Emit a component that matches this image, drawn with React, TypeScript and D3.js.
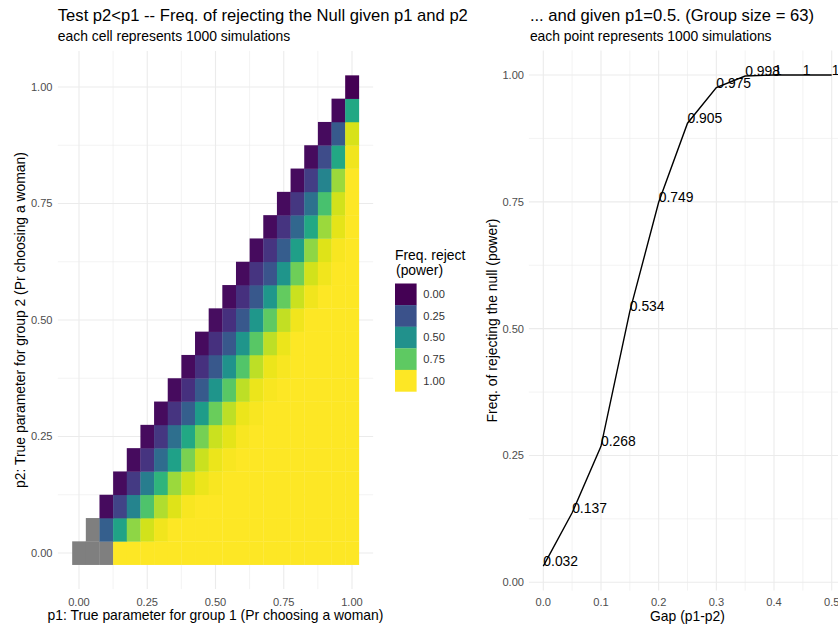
import React from "react";
import * as d3 from "d3";

// ---------- data ----------
const P_STEPS = [0, 0.05, 0.1, 0.15, 0.2, 0.25, 0.3, 0.35, 0.4, 0.45, 0.5, 0.55, 0.6, 0.65, 0.7, 0.75, 0.8, 0.85, 0.9, 0.95, 1];

// Row k = p2 = P_STEPS[k]; entries for p1 = P_STEPS[k], P_STEPS[k+1], ..., 1.0 (null = NA)
const HEAT_ROWS: (number | null)[][] = [
  [null, null, null, 1, 1, 1, 1, 1, 1, 1, 1, 1, 1, 1, 1, 1, 1, 1, 1, 1, 1],
  [null, 0.3, 0.58, 0.83, 0.93, 0.98, 1, 1, 1, 1, 1, 1, 1, 1, 1, 1, 1, 1, 1, 1],
  [0.03, 0.2, 0.45, 0.72, 0.88, 0.95, 0.99, 1, 1, 1, 1, 1, 1, 1, 1, 1, 1, 1, 1],
  [0.03, 0.17, 0.42, 0.65, 0.85, 0.93, 0.97, 0.99, 1, 1, 1, 1, 1, 1, 1, 1, 1, 1],
  [0.03, 0.15, 0.35, 0.57, 0.8, 0.92, 0.97, 0.99, 1, 1, 1, 1, 1, 1, 1, 1, 1],
  [0.03, 0.16, 0.36, 0.6, 0.79, 0.92, 0.96, 0.99, 1, 1, 1, 1, 1, 1, 1, 1],
  [0.03, 0.15, 0.3, 0.55, 0.77, 0.9, 0.97, 0.99, 1, 1, 1, 1, 1, 1, 1],
  [0.03, 0.14, 0.28, 0.52, 0.74, 0.9, 0.97, 0.99, 1, 1, 1, 1, 1, 1],
  [0.03, 0.14, 0.27, 0.51, 0.73, 0.9, 0.97, 0.99, 1, 1, 1, 1, 1],
  [0.03, 0.14, 0.27, 0.52, 0.74, 0.9, 0.97, 1, 1, 1, 1, 1],
  [0.032, 0.14, 0.27, 0.53, 0.75, 0.91, 0.98, 1, 1, 1, 1],
  [0.03, 0.14, 0.27, 0.53, 0.76, 0.92, 0.98, 1, 1, 1],
  [0.03, 0.15, 0.26, 0.52, 0.78, 0.93, 0.98, 1, 1],
  [0.03, 0.15, 0.29, 0.56, 0.83, 0.95, 0.99, 1],
  [0.03, 0.15, 0.33, 0.6, 0.85, 0.96, 1],
  [0.03, 0.16, 0.37, 0.71, 0.93, 1],
  [0.03, 0.18, 0.45, 0.85, 1],
  [0.03, 0.23, 0.6, 0.98],
  [0.03, 0.28, 0.94],
  [0.02, 0.6],
  [0.0],
];

const HEAT_TICKS = [0, 0.25, 0.5, 0.75, 1];
const HEAT_TICK_LABELS = ["0.00", "0.25", "0.50", "0.75", "1.00"];
const LEGEND_VALUES = [0, 0.25, 0.5, 0.75, 1];
const LEGEND_LABELS = ["0.00", "0.25", "0.50", "0.75", "1.00"];

const GAPS = [0, 0.05, 0.1, 0.15, 0.2, 0.25, 0.3, 0.35, 0.4, 0.45, 0.5];
const POWER = [0.032, 0.137, 0.268, 0.534, 0.749, 0.905, 0.975, 0.998, 1, 1, 1];
const POWER_LABELS = ["0.032", "0.137", "0.268", "0.534", "0.749", "0.905", "0.975", "0.998", "1", "1", "1"];
const GAP_TICKS = [0, 0.1, 0.2, 0.3, 0.4, 0.5];
const GAP_TICK_LABELS = ["0.0", "0.1", "0.2", "0.3", "0.4", "0.5"];
const POWER_TICKS = [0, 0.25, 0.5, 0.75, 1];
const POWER_TICK_LABELS = ["0.00", "0.25", "0.50", "0.75", "1.00"];

// ---------- styles ----------
const FONT = "'Liberation Sans', Arial, Helvetica, sans-serif";
const GRID = "#EBEBEB";
const TICK_COLOR = "#4D4D4D";
const NA_COLOR = "#7F7F7F";

export default function App() {
  // Left panel scales
  const xL = d3.scaleLinear().domain([0, 1]).range([79, 352]);
  const yL = d3.scaleLinear().domain([0, 1]).range([553, 87]);
  const lX0 = xL(-0.0775), lX1 = xL(1.0775);
  const lY0 = yL(-0.0775), lY1 = yL(1.0775);
  const color = d3.scaleSequential(d3.interpolateViridis).domain([0, 1]);
  const cw = xL(0.05) - xL(0);
  const ch = yL(0) - yL(0.05);

  const minorL = [0.125, 0.375, 0.625, 0.875];

  const cells: { p1: number; p2: number; v: number | null }[] = [];
  HEAT_ROWS.forEach((row, k) => {
    row.forEach((v, j) => {
      cells.push({ p1: P_STEPS[k + j], p2: P_STEPS[k], v });
    });
  });

  // Right panel scales
  const xR = d3.scaleLinear().domain([0, 0.5]).range([543.3, 831.7]);
  const yR = d3.scaleLinear().domain([0, 1]).range([582.3, 75]);
  const rX0 = xR(-0.025), rX1 = xR(0.525);
  const rY0 = yR(0.032 - 0.0484), rY1 = yR(1.0484);
  const minorRx = [0.05, 0.15, 0.25, 0.35, 0.45];
  const minorRy = [0.125, 0.375, 0.625, 0.875];
  const line = d3
    .line<number>()
    .x((_, i) => xR(GAPS[i]))
    .y((d) => yR(d));

  const legendKey = 21.6;
  const legendTop = 283.5;

  return (
    <svg
      width={838}
      height={625}
      style={{ position: "absolute", left: 0, top: 0, display: "block", background: "#fff" }}
      fontFamily={FONT}
    >
      <rect x={0} y={0} width={838} height={625} fill="#fff" />
      {/* ---------- LEFT PANEL ---------- */}
      <g>
        {minorL.map((t) => (
          <line key={"lmx" + t} x1={xL(t)} x2={xL(t)} y1={lY0} y2={lY1} stroke={GRID} strokeWidth={0.6} />
        ))}
        {minorL.map((t) => (
          <line key={"lmy" + t} y1={yL(t)} y2={yL(t)} x1={lX0} x2={lX1} stroke={GRID} strokeWidth={0.6} />
        ))}
        {HEAT_TICKS.map((t) => (
          <line key={"lgx" + t} x1={xL(t)} x2={xL(t)} y1={lY0} y2={lY1} stroke={GRID} strokeWidth={1.1} />
        ))}
        {HEAT_TICKS.map((t) => (
          <line key={"lgy" + t} y1={yL(t)} y2={yL(t)} x1={lX0} x2={lX1} stroke={GRID} strokeWidth={1.1} />
        ))}
        {cells.map((c, i) => (
          <rect
            key={i}
            x={xL(c.p1) - cw / 2}
            y={yL(c.p2) - ch / 2}
            width={cw + 0.3}
            height={ch + 0.3}
            fill={c.v === null ? NA_COLOR : color(c.v)}
          />
        ))}
        {HEAT_TICKS.map((t, i) => (
          <text key={"lxt" + t} x={xL(t)} y={606} textAnchor="middle" fontSize={11.1} fill={TICK_COLOR}>
            {HEAT_TICK_LABELS[i]}
          </text>
        ))}
        {HEAT_TICKS.map((t, i) => (
          <text key={"lyt" + t} x={52.5} y={yL(t)} dy="0.35em" textAnchor="end" fontSize={11.1} fill={TICK_COLOR}>
            {HEAT_TICK_LABELS[i]}
          </text>
        ))}
        <text x={(lX0 + lX1) / 2} y={620} textAnchor="middle" fontSize={13.9} fill="#000">
          p1: True parameter for group 1 (Pr choosing a woman)
        </text>
        <text
          transform={`translate(25,${(lY0 + lY1) / 2}) rotate(-90)`}
          textAnchor="middle"
          fontSize={13.9}
          fill="#000"
        >
          p2: True parameter for group 2 (Pr choosing a woman)
        </text>
        <text x={lX0} y={20.5} fontSize={16.6} fill="#000">
          Test p2&lt;p1 -- Freq. of rejecting the Null given p1 and p2
        </text>
        <text x={lX0} y={41} fontSize={13.9} fill="#000">
          each cell represents 1000 simulations
        </text>
      </g>

      {/* ---------- LEGEND ---------- */}
      <g>
        <text x={395} y={259.5} fontSize={13.9} fill="#000">
          Freq. reject
        </text>
        <text x={396} y={274.5} fontSize={13.9} fill="#000">
          (power)
        </text>
        {LEGEND_VALUES.map((v, i) => (
          <g key={"lg" + i}>
            <rect x={395} y={legendTop + i * legendKey} width={21.6} height={legendKey + 0.2} fill={color(v)} />
            <text
              x={423.3}
              y={legendTop + i * legendKey + legendKey / 2}
              dy="0.35em"
              fontSize={11.1}
              fill="#333"
            >
              {LEGEND_LABELS[i]}
            </text>
          </g>
        ))}
      </g>

      {/* ---------- RIGHT PANEL ---------- */}
      <g>
        {minorRx.map((t) => (
          <line key={"rmx" + t} x1={xR(t)} x2={xR(t)} y1={rY0} y2={rY1} stroke={GRID} strokeWidth={0.6} />
        ))}
        {minorRy.map((t) => (
          <line key={"rmy" + t} y1={yR(t)} y2={yR(t)} x1={rX0} x2={rX1} stroke={GRID} strokeWidth={0.6} />
        ))}
        {GAP_TICKS.map((t) => (
          <line key={"rgx" + t} x1={xR(t)} x2={xR(t)} y1={rY0} y2={rY1} stroke={GRID} strokeWidth={1.1} />
        ))}
        {POWER_TICKS.map((t) => (
          <line key={"rgy" + t} y1={yR(t)} y2={yR(t)} x1={rX0} x2={rX1} stroke={GRID} strokeWidth={1.1} />
        ))}
        <path d={line(POWER) || ""} fill="none" stroke="#000" strokeWidth={1.4} />
        {POWER.map((v, i) => (
          <text key={"pl" + i} x={xR(GAPS[i])} y={yR(v)} fontSize={13.9} fill="#000">
            {POWER_LABELS[i]}
          </text>
        ))}
        {GAP_TICKS.map((t, i) => (
          <text key={"rxt" + t} x={xR(t)} y={606} textAnchor="middle" fontSize={11.1} fill={TICK_COLOR}>
            {GAP_TICK_LABELS[i]}
          </text>
        ))}
        {POWER_TICKS.map((t, i) => (
          <text key={"ryt" + t} x={524} y={yR(t)} dy="0.35em" textAnchor="end" fontSize={11.1} fill={TICK_COLOR}>
            {POWER_TICK_LABELS[i]}
          </text>
        ))}
        <text x={(rX0 + rX1) / 2} y={621} textAnchor="middle" fontSize={13.9} fill="#000">
          Gap (p1-p2)
        </text>
        <text
          transform={`translate(497,${(rY0 + rY1) / 2}) rotate(-90)`}
          textAnchor="middle"
          fontSize={13.9}
          fill="#000"
        >
          Freq. of rejecting the null (power)
        </text>
        <text x={rX0 + 1} y={20.5} fontSize={16.6} fill="#000">
          ... and given p1=0.5. (Group size = 63)
        </text>
        <text x={rX0 + 1} y={41} fontSize={13.9} fill="#000">
          each point represents 1000 simulations
        </text>
      </g>
    </svg>
  );
}
